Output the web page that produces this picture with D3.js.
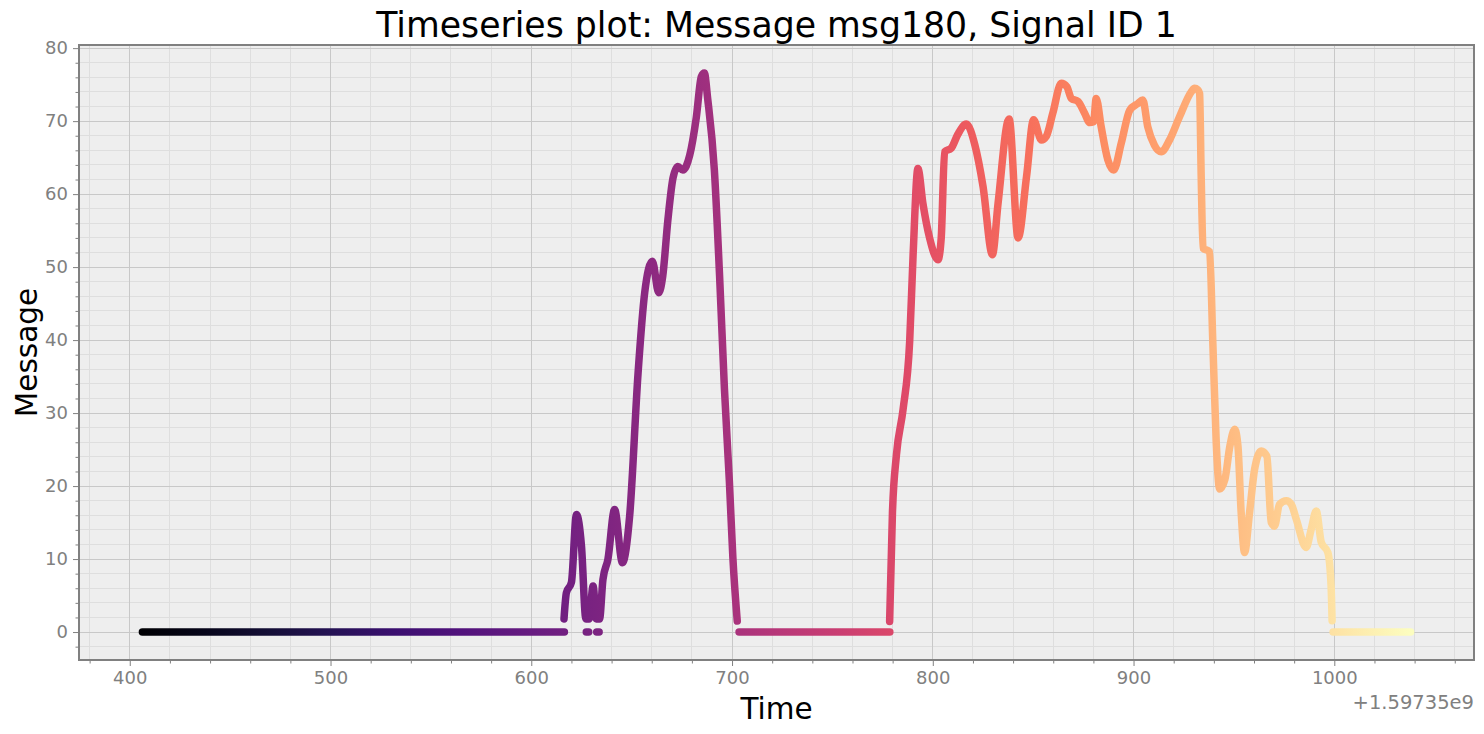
<!DOCTYPE html>
<html lang="en">
<head>
<meta charset="utf-8">
<title>Timeseries plot</title>
<script src="https://d3js.org/d3.v7.min.js"></script>
<style>
  body { margin: 0; background: #fff; }
  svg { font-family: "DejaVu Sans", sans-serif; }
</style>
</head>
<body>
<div id="container"></div>
<script>
const width = 1484, height = 734;
const margin = {top: 45, right: 10, bottom: 74, left: 79};

const title = "Timeseries plot: Message msg180, Signal ID 1";
const xLabel = "Time", yLabel = "Message";
const xOffsetText = "+1.59735e9";
const xTicks = [400, 500, 600, 700, 800, 900, 1000];
const yTicks = [0, 10, 20, 30, 40, 50, 60, 70, 80];

// seconds after 1.59735e9; null in values splits runs of samples
const times = [
  406.3, 616.5, null,
  616.3, 617.5, 620, 622.5, 625, 627.2, 628.8, 630.8, 632.4, 634, 635.7, 638.2,
  641.5, 645.4, 649, 653.2, 656.5, 660.3, 663.5, 665.5, 668.1, 670.6, 673, 675.5,
  678.9, 682.2, 684.7, 686.2, 687.9, 691.2, 693.8, 696.2, 698.7, 700.4, 702.6, null,
  627.4, 628.6, null,
  632.6, 633.8, null,
  703.5, 778.6, null,
  778.5, 779.9, 781.9, 785.2, 788.5, 790.2, 792.6, 795.1, 798.4, 802.6, 804.2,
  805.9, 809.2, 812.5, 816.7, 820.9, 825, 829.7, 832.5, 838, 842.5, 846.7, 850.2,
  854.1, 856.5, 859.8, 864, 866.8, 869, 872.3, 875.6, 878.2, 880.1, 881.4, 883.9,
  887.2, 890.1, 893.9, 898.1, 902.1, 904.6, 907.1, 910.4, 913.8, 917.9, 922.9,
  928.7, 930.4, 932, 932.9, 933.7, 934.6, 937.9, 939.5, 941.2, 942.9, 945.5, 948,
  950.4, 952, 953.6, 955.3, 957.8, 960.3, 963.6, 966.4, 968.6, 970.2, 972.7, 976.1,
  978.6, 981, 986, 988.5, 991, 993.5, 996.8, 998.4, 998.9, null,
  999.4, 1038
];
const values = [
  0, 0, null,
  1.8, 5.4, 6.8, 16.1, 11.8, 1.8, 1.8, 6.3, 1.8, 1.8, 7.2, 10,
  16.8, 9.5, 15.9, 35.5, 46.5, 50.8, 46.5, 48.8, 56.6, 62.2, 63.8, 63.3,
  65.3, 70.5, 76.1, 76.6, 73, 63.3, 48.8, 33.4, 20.5, 10.3, 1.5, null,
  0, 0, null,
  0, 0, null,
  0, 0, null,
  1.45, 16.3, 24.3, 30.5, 39.9, 51.7, 63.5, 58.7, 54, 51, 54,
  65.8, 66.3, 68.2, 69.6, 66.8, 61.1, 51.7, 58.7, 70.3, 54, 62.4, 70.2,
  67.4, 67.9, 71.1, 75.2, 74.7, 73.1, 72.7, 71.1, 69.8, 69.9, 73.1, 69.2,
  64.7, 63.3, 67, 71.5, 72.4, 72.9, 69.2, 66.7, 65.8, 67.4, 70.6,
  74, 74.5, 74.3, 73.8, 62.4, 52.6, 52.1, 39.6, 25.9, 19.6, 20.9, 25.5,
  27.8, 25.5, 16.4, 10.9, 16.4, 22.3, 24.8, 24.1, 15, 14.5, 17.5, 18,
  17.5, 15.5, 11.6, 14.1, 16.6, 12.3, 10.9, 6.3, 1.55, null,
  0, 0
];

const data = times.map((t, i) => ({t, v: values[i]}));
const valid = data.filter(d => d.v != null);

const tMin = d3.min(valid, d => d.t), tMax = d3.max(valid, d => d.t);
const vMin = d3.min(valid, d => d.v), vMax = d3.max(valid, d => d.v);
const tPad = (tMax - tMin) * 0.05, vPad = (vMax - vMin) * 0.05;

const x = d3.scaleLinear()
  .domain([tMin - tPad, tMax + tPad])
  .range([margin.left, width - margin.right]);
const y = d3.scaleLinear()
  .domain([vMin - vPad, vMax + vPad])
  .range([height - margin.bottom, margin.top]);

const xMinor = d3.range(380, 1070, 20).filter(d => d % 100 !== 0);
const yMinor = d3.range(-2, 81, 2).filter(d => d % 10 !== 0);

const svg = d3.select("#container").append("svg")
  .attr("width", width)
  .attr("height", height)
  .attr("viewBox", [0, 0, width, height]);

svg.append("rect")
  .attr("x", margin.left).attr("y", margin.top)
  .attr("width", width - margin.left - margin.right)
  .attr("height", height - margin.top - margin.bottom)
  .attr("fill", "#eeeeee");

// grid: minor then major
const grid = svg.append("g").attr("shape-rendering", "crispEdges");
grid.selectAll(".vmin").data(xMinor.filter(d => x(d) > margin.left)).join("line")
  .attr("x1", d => x(d)).attr("x2", d => x(d))
  .attr("y1", margin.top).attr("y2", height - margin.bottom)
  .attr("stroke", "#dedede").attr("stroke-width", 1);
grid.selectAll(".hmin").data(yMinor.filter(d => y(d) < height - margin.bottom)).join("line")
  .attr("x1", margin.left).attr("x2", width - margin.right)
  .attr("y1", d => y(d)).attr("y2", d => y(d))
  .attr("stroke", "#dedede").attr("stroke-width", 1);
grid.selectAll(".vmaj").data(xTicks).join("line")
  .attr("x1", d => x(d)).attr("x2", d => x(d))
  .attr("y1", margin.top).attr("y2", height - margin.bottom)
  .attr("stroke", "#c8c8c8").attr("stroke-width", 1);
grid.selectAll(".hmaj").data(yTicks).join("line")
  .attr("x1", margin.left).attr("x2", width - margin.right)
  .attr("y1", d => y(d)).attr("y2", d => y(d))
  .attr("stroke", "#c8c8c8").attr("stroke-width", 1);

// colour by time (magma) via a horizontal gradient
const grad = svg.append("defs").append("linearGradient")
  .attr("id", "magma")
  .attr("gradientUnits", "userSpaceOnUse")
  .attr("x1", x(tMin)).attr("x2", x(tMax))
  .attr("y1", 0).attr("y2", 0);
grad.selectAll("stop").data(d3.range(0, 1.0001, 0.05)).join("stop")
  .attr("offset", d => d)
  .attr("stop-color", d => d3.interpolateMagma(d));

const line = d3.line()
  .defined(d => d.v != null)
  .curve(d3.curveMonotoneX)
  .x(d => x(d.t))
  .y(d => y(d.v));

svg.append("path")
  .datum(data)
  .attr("d", line)
  .attr("fill", "none")
  .attr("stroke", "url(#magma)")
  .attr("stroke-width", 7.5)
  .attr("stroke-linecap", "round")
  .attr("stroke-linejoin", "round");

// axes
const tickColor = "#808080";
const xAxis = svg.append("g")
  .attr("transform", `translate(0,${height - margin.bottom})`)
  .call(d3.axisBottom(x).tickValues(xTicks).tickFormat(d3.format("d")).tickSize(6).tickPadding(5).tickSizeOuter(0));
const xAxisMinor = svg.append("g")
  .attr("transform", `translate(0,${height - margin.bottom})`)
  .call(d3.axisBottom(x).tickValues(xMinor).tickSize(3.5).tickFormat("").tickSizeOuter(0));
const yAxis = svg.append("g")
  .attr("transform", `translate(${margin.left},0)`)
  .call(d3.axisLeft(y).tickValues(yTicks).tickFormat(d3.format("d")).tickSize(6).tickPadding(5).tickSizeOuter(0));
const yAxisMinor = svg.append("g")
  .attr("transform", `translate(${margin.left},0)`)
  .call(d3.axisLeft(y).tickValues(yMinor).tickSize(3.5).tickFormat("").tickSizeOuter(0));

[xAxis, xAxisMinor, yAxis, yAxisMinor].forEach(g => {
  g.select(".domain").remove();
  g.selectAll("line").attr("stroke", tickColor);
  g.selectAll("text").attr("fill", tickColor).attr("font-size", 18)
    .attr("font-family", "DejaVu Sans");
});

svg.append("rect")
  .attr("x", margin.left).attr("y", margin.top)
  .attr("width", width - margin.left - margin.right)
  .attr("height", height - margin.top - margin.bottom)
  .attr("fill", "none")
  .attr("stroke", tickColor)
  .attr("stroke-width", 1.2)
  .attr("shape-rendering", "crispEdges");

svg.append("text")
  .attr("x", width - margin.right).attr("y", 709)
  .attr("text-anchor", "end")
  .attr("fill", tickColor).attr("font-size", 19.5)
  .text(xOffsetText);

svg.append("text")
  .attr("x", (margin.left + width - margin.right) / 2).attr("y", 37)
  .attr("text-anchor", "middle")
  .attr("font-size", 34.7)
  .text(title);

svg.append("text")
  .attr("x", (margin.left + width - margin.right) / 2).attr("y", 719)
  .attr("text-anchor", "middle")
  .attr("font-size", 29.5)
  .text(xLabel);

svg.append("text")
  .attr("transform", `translate(37,${(margin.top + height - margin.bottom) / 2}) rotate(-90)`)
  .attr("text-anchor", "middle")
  .attr("font-size", 29.5)
  .text(yLabel);
</script>
</body>
</html>
